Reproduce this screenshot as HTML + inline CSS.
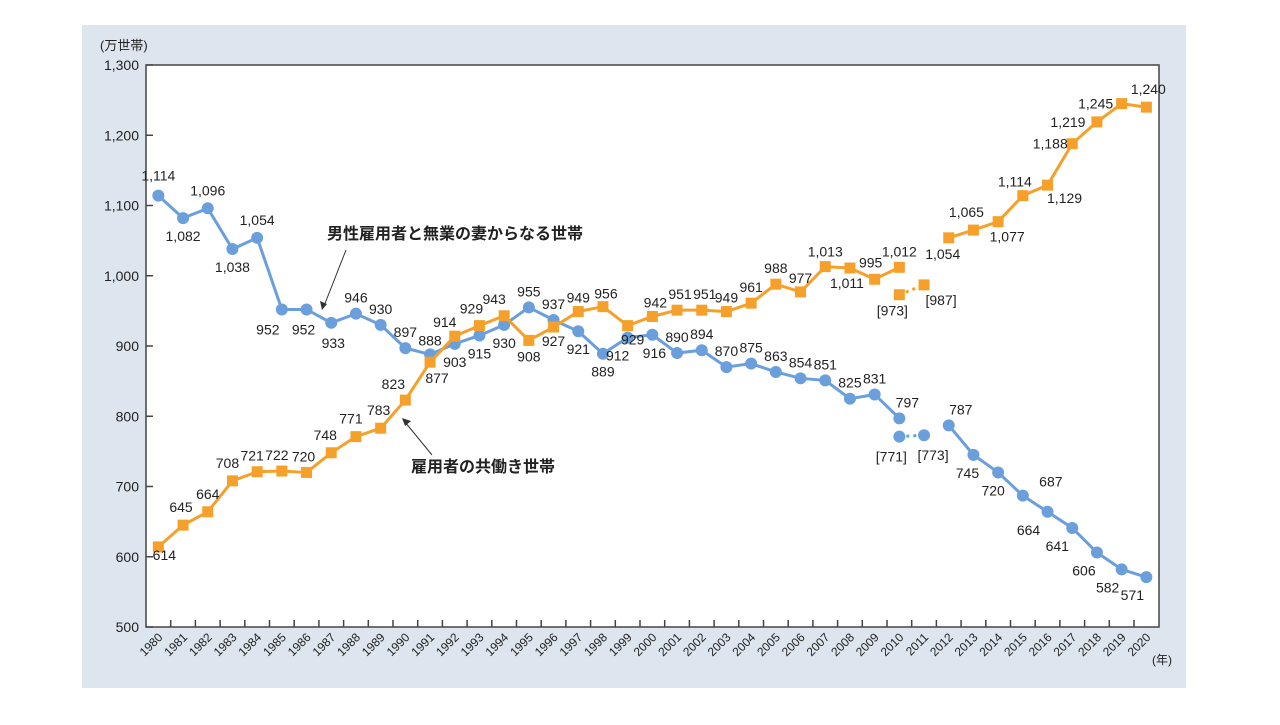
<!DOCTYPE html>
<html><head><meta charset="utf-8"><style>
body{margin:0;background:#fff;width:1280px;height:720px;overflow:hidden}
svg text{font-family:"Liberation Sans","Noto Sans CJK JP",sans-serif;fill:#222}
</style></head><body>
<svg id="chart" width="1280" height="720" xmlns="http://www.w3.org/2000/svg">
<rect x="82" y="25" width="1104" height="663" fill="#dde6ee"/>
<rect x="146" y="65" width="1013" height="562" fill="#fff" stroke="#444" stroke-width="1.5"/>
<text x="100" y="50" font-size="13">(万世帯)</text>
<text x="1152" y="664" font-size="12">(年)</text>
<g id="yaxis"></g><g id="xaxis"></g><g id="series"></g>
<g>
<text x="455" y="239" font-size="16" font-weight="bold" text-anchor="middle">男性雇用者と無業の妻からなる世帯</text>
<line x1="346" y1="250" x2="324" y2="306" stroke="#333" stroke-width="1"/>
<path d="M322,310 l-2,-9 l7,3 z" fill="#333"/>
<text x="483" y="472" font-size="16" font-weight="bold" text-anchor="middle">雇用者の共働き世帯</text>
<line x1="432" y1="455" x2="405" y2="422" stroke="#333" stroke-width="1"/>
<path d="M402,418 l9,3 l-6,5 z" fill="#333"/>
</g>
</svg>
<script>
const years=[];for(let y=1980;y<=2020;y++)years.push(y);
const yTicks=[500,600,700,800,900,1000,1100,1200,1300];
const blueVals=[1114,1082,1096,1038,1054,952,952,933,946,930,897,888,903,915,930,955,937,921,889,912,916,890,894,870,875,863,854,851,825,831,797,null,787,745,720,687,664,641,606,582,571];
const blueAlt=[{year:2010,v:771},{year:2011,v:773}];
const orangeVals=[614,645,664,708,721,722,720,748,771,783,823,877,914,929,943,908,927,949,956,929,942,951,951,949,961,988,977,1013,1011,995,1012,null,1054,1065,1077,1114,1129,1188,1219,1245,1240];
const orangeAlt=[{year:2010,v:973},{year:2011,v:987}];
// label offsets (layout)
const bOff=[[0,-20],[0,18],[0,-18],[0,18],[0,-18],[-14,20],[-3,20],[2,20],[0,-16],[0,-16],[0,-16],[0,-14],[0,18],[0,18],[0,18],[0,-16],[0,-16],[0,18],[0,18],[-10,18],[2,18],[0,-16],[0,-16],[0,-16],[0,-16],[0,-16],[0,-16],[0,-16],[0,-16],[0,-16],[8,-16],null,[12,-16],[-6,18],[-5,18],[28,-14],[-19,18],[-15,18],[-13,18],[-14,18],[-14,18]];
const bAltOff=[[-8,20],[9,20]];
const oOff=[[6,8],[-2,-18],[0,-18],[-5,-18],[-5,-16],[-5,-16],[-3,-16],[-6,-18],[-5,-18],[-2,-18],[-12,-16],[7,16],[-10,-14],[-8,-17],[-10,-17],[0,16],[0,14],[0,-14],[3,-13],[5,14],[3,-14],[3,-16],[3,-16],[0,-14],[0,-16],[0,-16],[0,-14],[0,-15],[-3,15],[-4,-17],[0,-16],null,[-6,16],[-7,-18],[9,15],[-8,-14],[17,13],[-22,0],[-29,0],[-26,0],[2,-18]];
const oAltOff=[[-7,16],[17,15]];
const NS='http://www.w3.org/2000/svg';
const X=yr=>158.35+24.7*(yr-1980);
const Y=v=>627-(v-500)*0.7025;
const fmt=v=>v.toLocaleString('en-US');
function mk(tag,attrs,parent){const e=document.createElementNS(NS,tag);for(const k in attrs)e.setAttribute(k,attrs[k]);parent.appendChild(e);return e;}
const ya=document.getElementById('yaxis'),xa=document.getElementById('xaxis'),sg=document.getElementById('series');
yTicks.forEach(t=>{
 const l=mk('line',{x1:146,x2:153,y1:Y(t),y2:Y(t),stroke:'#444','stroke-width':1.5},ya);
 
 
 const tx=mk('text',{x:139,y:Y(t)+5,'font-size':14,'text-anchor':'end'},ya);
 
 
 tx.textContent=fmt(t);
});
years.forEach((yr,i)=>{
 if(i>0){const l=mk('line',{x1:X(yr)-12.35,x2:X(yr)-12.35,y1:620,y2:627,stroke:'#444','stroke-width':1.5},xa);
 
 }
 const tx=mk('text',{x:X(yr)+5,y:638,'font-size':12,'text-anchor':'end',transform:`rotate(-45 ${X(yr)+5} 638)`},xa);
 
 
 tx.textContent=yr;
});
function drawSeries(vals,alt,off,altOff,color,shape,name){
 let segs=[],cur=[];
 vals.forEach((v,i)=>{if(v==null){if(cur.length)segs.push(cur);cur=[];}else cur.push([X(years[i]),Y(v)]);});
 if(cur.length)segs.push(cur);
 segs.forEach(s=>{const p=mk('polyline',{points:s.map(q=>q.join(',')).join(' '),fill:'none',stroke:color,'stroke-width':3},sg);
  
  });
 const dl=mk('line',{x1:X(alt[0].year),y1:Y(alt[0].v),x2:X(alt[1].year),y2:Y(alt[1].v),stroke:color,'stroke-width':3,'stroke-dasharray':'3,4'},sg);
 
 
 const pts=vals.map((v,i)=>({year:years[i],v,o:off[i],lab:v==null?null:fmt(v)})).concat(alt.map((a,j)=>({year:a.year,v:a.v,o:altOff[j],lab:'['+a.v+']'})));
 pts.forEach(p=>{
  if(p.v==null)return;
  const cx=X(p.year),cy=Y(p.v);
  let m;
  if(shape==='c')m=mk('circle',{cx,cy,r:6,fill:color},sg);
  else m=mk('rect',{x:cx-5.5,y:cy-5.5,width:11,height:11,fill:color},sg);
  
  
  const t=mk('text',{x:cx+p.o[0],y:cy+p.o[1]+5,'font-size':14,'text-anchor':'middle'},sg);
  
  
  t.textContent=p.lab;
 });
}
drawSeries(blueVals,blueAlt,bOff,bAltOff,'#6a9fdc','c','single-income');
drawSeries(orangeVals,orangeAlt,oOff,oAltOff,'#f5a02a','s','dual-income');
</script>
</body></html>
